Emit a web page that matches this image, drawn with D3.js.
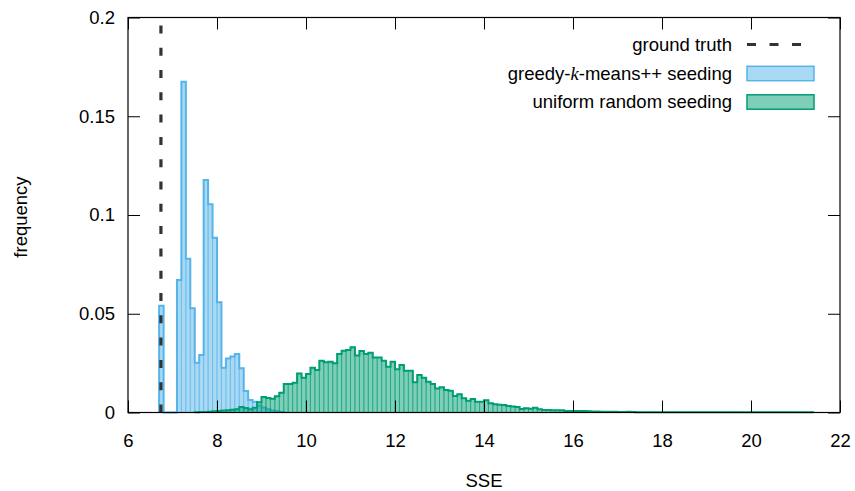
<!DOCTYPE html>
<html>
<head>
<meta charset="utf-8">
<script src="https://cdn.jsdelivr.net/npm/d3@7/dist/d3.min.js"></script>
<style>
  html, body { margin: 0; padding: 0; background: #fff; }
  svg { display: block; }
  text { font-family: "Liberation Sans", Arial, Helvetica, sans-serif; fill: #000; }
</style>
</head>
<body>
<svg id="chart" width="855" height="491"></svg>
<script>
// ---------------- data ----------------
const binWidth = 0.1;
const groundTruth = 6.74;

// greedy-k-means++ seeding histogram, bins of width 0.1 starting at 6.7
const greedyStart = 6.7;
const greedyValues = [
  0.0541, 0, 0, 0,
  0.0671, 0.1675, 0.0779, 0.0528, 0.0252, 0.0291, 0.1177, 0.1054, 0.0885, 0.0558,
  0.0227, 0.0274, 0.0283, 0.0296, 0.0224, 0.0109, 0.0063, 0.0055, 0.0036, 0.0025,
  0.0016, 0.0010, 0.0006, 0.0003
];

// uniform random seeding histogram, bins of width 0.1 starting at 7.5
const uniformStart = 7.5;
const uniformValues = [
  0.0001, 0.0002, 0.0003, 0.0004, 0.0006, 0.0008, 0.0010, 0.0012, 0.0014, 0.0016,
  0.0028, 0.0023, 0.0017, 0.0024, 0.0052, 0.0079, 0.0074, 0.0070, 0.0082, 0.0100,
  0.0144, 0.0144, 0.0151, 0.0198, 0.0176, 0.0195, 0.0227, 0.0215, 0.0262, 0.0254,
  0.0257, 0.0249, 0.0296, 0.0313, 0.0316, 0.0330, 0.0288, 0.0311, 0.0296, 0.0303,
  0.0278, 0.0278, 0.0262, 0.0232, 0.0257, 0.0219, 0.0241, 0.0212, 0.0212, 0.0153,
  0.0190, 0.0176, 0.0156, 0.0144, 0.0122, 0.0128, 0.0114, 0.0110, 0.0084, 0.0092,
  0.0072, 0.0060, 0.0068, 0.0055, 0.0055, 0.0062, 0.0047, 0.0042, 0.0039, 0.0038,
  0.0033, 0.0030, 0.0028, 0.0018, 0.0022, 0.0019, 0.0024, 0.0016, 0.0013, 0.0013,
  0.0012, 0.0012, 0.0011, 0.0008, 0.0008, 0.0007, 0.0008, 0.0007, 0.0006, 0.0005,
  0.0005, 0.0004, 0.0004, 0.0004, 0.0004, 0.0003, 0.0003, 0.0004, 0.0002, 0.0001,
  0.0001, 0.0001, 0.0001, 0.0001, 0.0001, 0.0001, 0.0001, 0.0001, 0.0001, 0.0001,
  0.0001, 0.0001, 0.0001, 0.0001, 0.0001, 0.0001, 0.0001, 0.0001, 0.0001, 0.0001,
  0.0001, 0.0001, 0.0001, 0.0001, 0.0001, 0.0001, 0.0001, 0.0001, 0.0001, 0.0001,
  0.0001, 0.0001, 0.0001, 0.0001, 0.0001, 0.0001, 0.0001, 0.0001, 0.0001
];

const xTicks = [6, 8, 10, 12, 14, 16, 18, 20, 22];
const yTicks = [0, 0.05, 0.1, 0.15, 0.2];
const yTickLabels = ["0", "0.05", "0.1", "0.15", "0.2"];

const legendLabels = ["ground truth", "greedy-k-means++ seeding", "uniform random seeding"];

const colors = {
  greedy: "#56b4e9",
  uniform: "#009e73",
  truth: "#333333"
};

// ---------------- layout ----------------
const svg = d3.select("#chart");
const L = 128, R = 840, T = 17.5, B = 412.5;
const FS = 18.5;

const x = d3.scaleLinear().domain([6, 22]).range([L, R]);
const y = d3.scaleLinear().domain([0, 0.2]).range([B, T]);

function toBins(start, values) {
  return values.map((v, i) => ({ x0: +(start + i * binWidth).toFixed(2), x1: +(start + (i + 1) * binWidth).toFixed(2), v }));
}

function drawHist(bins, color) {
  const g = svg.append("g");
  g.selectAll("rect").data(bins.filter(d => d.v > 0)).join("rect")
    .attr("x", d => x(d.x0))
    .attr("width", d => x(d.x1) - x(d.x0))
    .attr("y", d => y(d.v))
    .attr("height", d => y(0) - y(d.v))
    .attr("fill", color)
    .attr("fill-opacity", 0.5)
    .attr("stroke", color)
    .attr("stroke-opacity", 0.5)
    .attr("stroke-width", 1);
  // outline steps
  const pts = [[x(bins[0].x0), y(0)]];
  bins.forEach(d => { pts.push([x(d.x0), y(d.v)]); pts.push([x(d.x1), y(d.v)]); });
  pts.push([x(bins[bins.length - 1].x1), y(0)]);
  g.append("path")
    .attr("d", d3.line()(pts))
    .attr("fill", "none")
    .attr("stroke", color)
    .attr("stroke-width", 2)
    .attr("stroke-linejoin", "miter");
}

drawHist(toBins(greedyStart, greedyValues), colors.greedy);
drawHist(toBins(uniformStart, uniformValues), colors.uniform);

// ground truth dashed line (drawn bottom to top)
svg.append("path")
  .attr("d", d3.line()([[x(groundTruth), y(0)], [x(groundTruth), y(0.2)]]))
  .attr("stroke", colors.truth)
  .attr("stroke-width", 3.2)
  .attr("stroke-dasharray", "8,14.3")
  .attr("fill", "none");

// ---------------- axes ----------------
const tickLen = 12;
const axB = svg.append("g").attr("transform", `translate(0,${B})`)
  .call(d3.axisBottom(x).tickValues(xTicks).tickFormat(d3.format("d")).tickSizeInner(-tickLen).tickSizeOuter(0).tickPadding(21));
const axT = svg.append("g").attr("transform", `translate(0,${T})`)
  .call(d3.axisTop(x).tickValues(xTicks).tickFormat("").tickSizeInner(-tickLen).tickSizeOuter(0));
const axL = svg.append("g").attr("transform", `translate(${L},0)`)
  .call(d3.axisLeft(y).tickValues(yTicks).tickFormat((d, i) => yTickLabels[i]).tickSizeInner(-tickLen).tickSizeOuter(0).tickPadding(13));
const axR = svg.append("g").attr("transform", `translate(${R},0)`)
  .call(d3.axisRight(y).tickValues(yTicks).tickFormat("").tickSizeInner(-tickLen).tickSizeOuter(0));

[axB, axT, axL, axR].forEach(a => {
  a.select(".domain").remove();
  a.selectAll(".tick line").attr("stroke", "#000").attr("stroke-width", 1);
  a.selectAll("text").attr("font-size", FS).attr("font-family", "Liberation Sans, Arial, sans-serif").attr("fill", "#000");
});
svg.append("rect")
  .attr("x", L).attr("y", T).attr("width", R - L).attr("height", B - T)
  .attr("fill", "none").attr("stroke", "#000").attr("stroke-width", 1.2);

// axis titles
svg.append("text").attr("x", (L + R) / 2).attr("y", 487).attr("text-anchor", "middle")
  .attr("font-size", FS).text("SSE");
svg.append("text").attr("transform", `translate(27,${(T + B) / 2 + 2}) rotate(-90)`)
  .attr("text-anchor", "middle").attr("font-size", FS).text("frequency");

// ---------------- legend ----------------
const legTextX = 732, sampleX0 = 747, sampleX1 = 814;
const rowsY = [44.5, 73.5, 102];

// ground truth
svg.append("text").attr("x", legTextX).attr("y", rowsY[0]).attr("dy", "0.35em")
  .attr("text-anchor", "end").attr("font-size", FS).text(legendLabels[0]);
svg.append("line").attr("x1", sampleX0).attr("x2", sampleX1).attr("y1", rowsY[0]).attr("y2", rowsY[0])
  .attr("stroke", colors.truth).attr("stroke-width", 3.2).attr("stroke-dasharray", "9,13.5");

// greedy (with italic k)
const t2 = svg.append("text").attr("x", legTextX).attr("y", rowsY[1]).attr("dy", "0.35em")
  .attr("text-anchor", "end").attr("font-size", FS);
t2.append("tspan").text("greedy-");
t2.append("tspan").attr("font-family", "Liberation Serif, Times New Roman, serif").attr("font-style", "italic").text("k");
t2.append("tspan").text("-means++ seeding");
svg.append("rect").attr("x", sampleX0).attr("y", rowsY[1] - 7.2).attr("width", sampleX1 - sampleX0).attr("height", 14.4)
  .attr("fill", colors.greedy).attr("fill-opacity", 0.5).attr("stroke", colors.greedy).attr("stroke-width", 1.5);

// uniform
svg.append("text").attr("x", legTextX).attr("y", rowsY[2]).attr("dy", "0.35em")
  .attr("text-anchor", "end").attr("font-size", FS).text(legendLabels[2]);
svg.append("rect").attr("x", sampleX0).attr("y", rowsY[2] - 7.2).attr("width", sampleX1 - sampleX0).attr("height", 14.4)
  .attr("fill", colors.uniform).attr("fill-opacity", 0.5).attr("stroke", colors.uniform).attr("stroke-width", 1.5);
</script>
</body>
</html>
